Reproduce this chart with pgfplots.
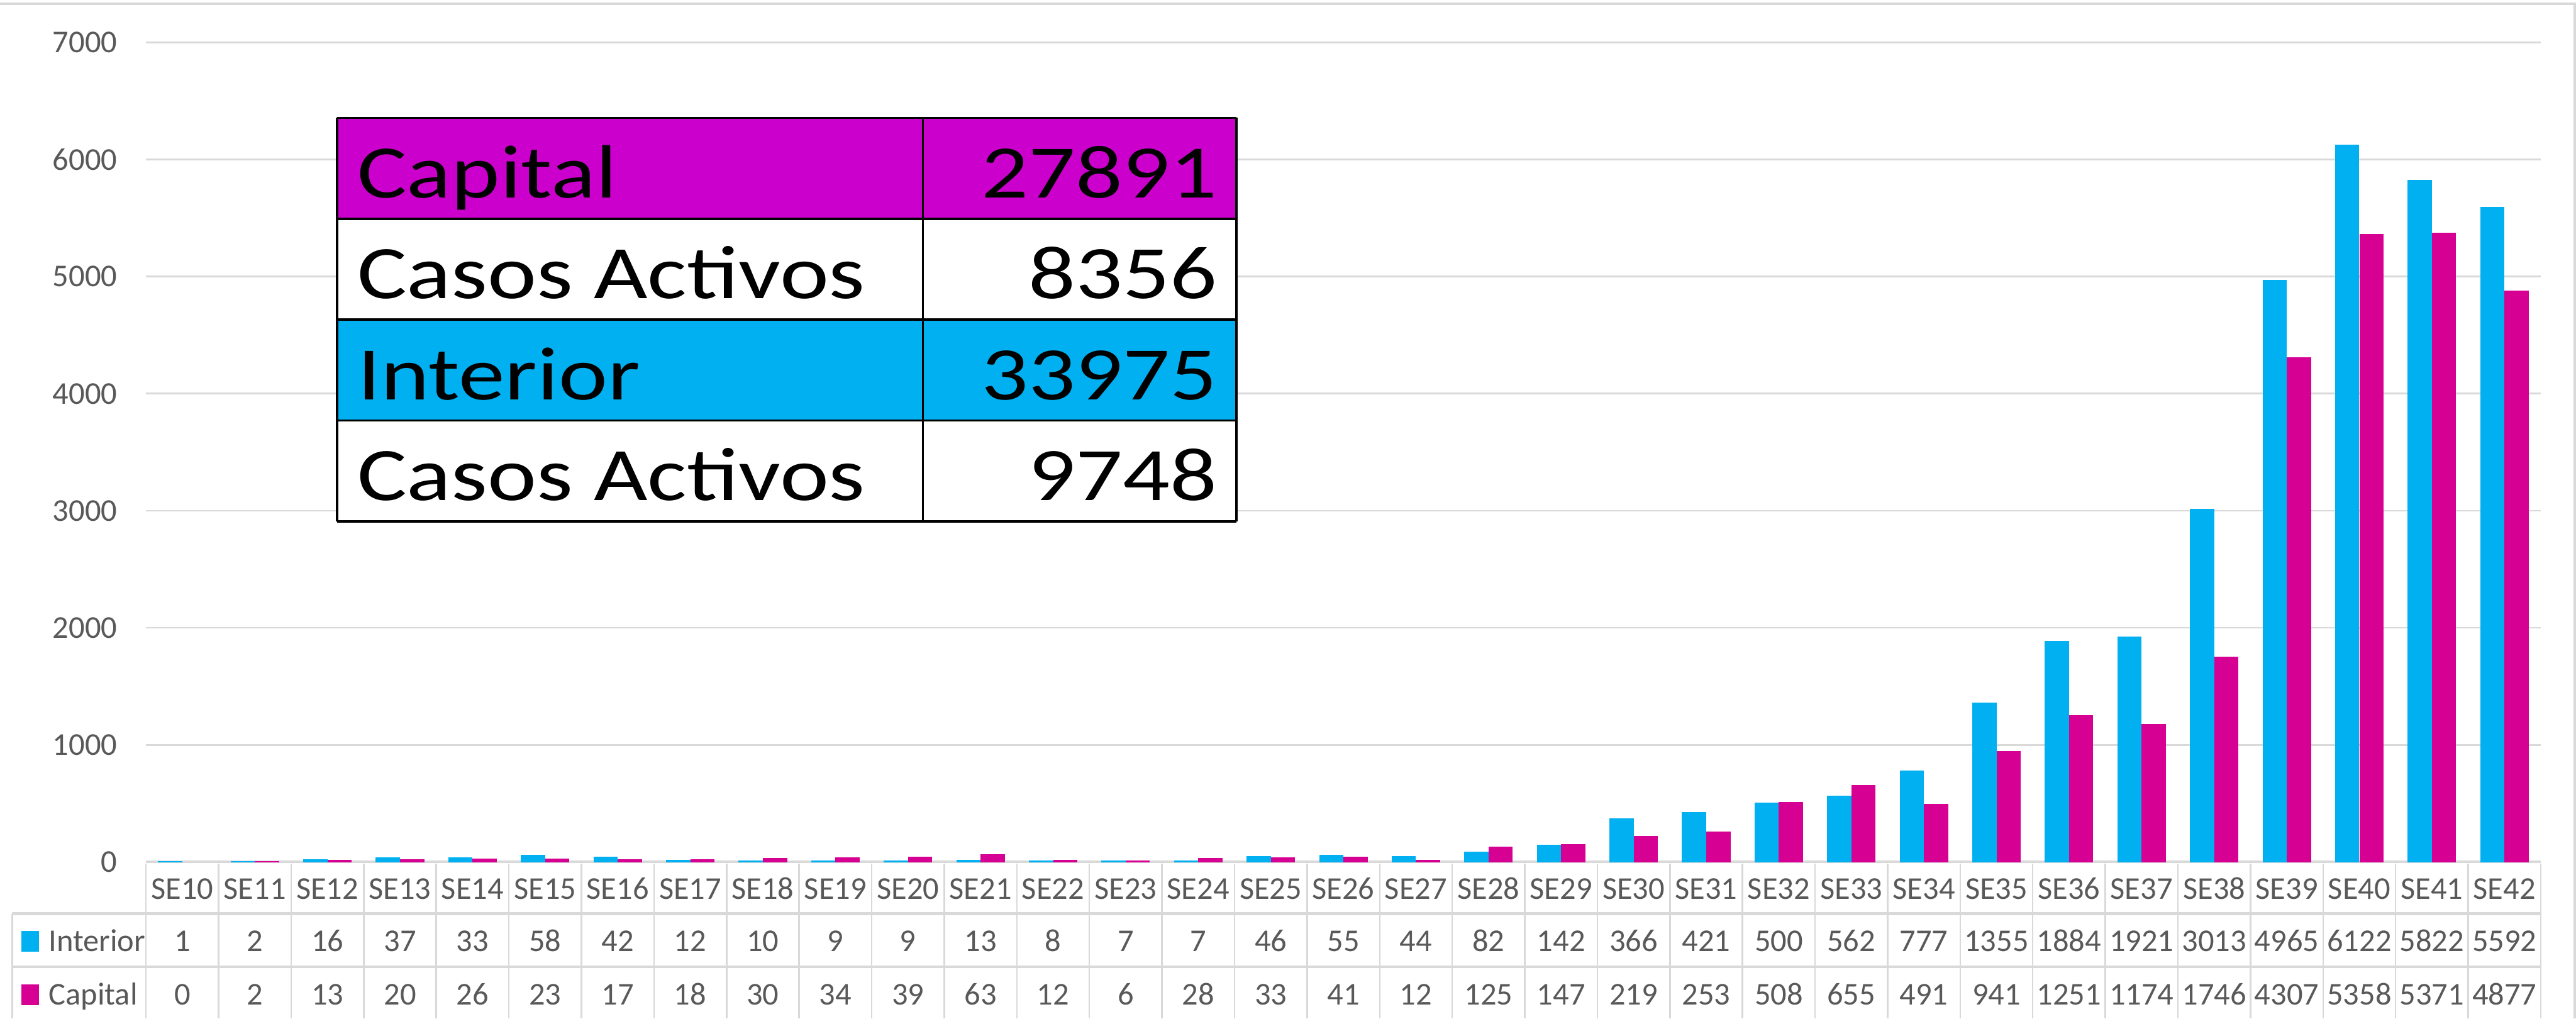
\documentclass[border=0pt]{standalone}
\usepackage{pgfplots}
\pgfplotsset{compat=1.18}
\usepackage{pgfplotstable}
\usepackage{graphicx}
\usepackage{fontspec}
\setmainfont{Carlito}
\definecolor{cyanbar}{RGB}{0,176,240}
\definecolor{magbar}{RGB}{214,0,147}
\definecolor{magcell}{RGB}{204,0,204}
\definecolor{txtgray}{RGB}{89,89,89}
\definecolor{gridgray}{RGB}{217,217,217}

\pgfplotstableread{
x cat interior capital
0 SE10 1 0
1 SE11 2 2
2 SE12 16 13
3 SE13 37 20
4 SE14 33 26
5 SE15 58 23
6 SE16 42 17
7 SE17 12 18
8 SE18 10 30
9 SE19 9 34
10 SE20 9 39
11 SE21 13 63
12 SE22 8 12
13 SE23 7 6
14 SE24 7 28
15 SE25 46 33
16 SE26 55 41
17 SE27 44 12
18 SE28 82 125
19 SE29 142 147
20 SE30 366 219
21 SE31 421 253
22 SE32 500 508
23 SE33 562 655
24 SE34 777 491
25 SE35 1355 941
26 SE36 1884 1251
27 SE37 1921 1174
28 SE38 3013 1746
29 SE39 4965 4307
30 SE40 6122 5358
31 SE41 5822 5371
32 SE42 5592 4877
}\data

\newcommand{\cw}{6.58485mm}
\newcommand{\tabfont}{\fontsize{8.2}{9.8}\selectfont}
\newcommand{\bigfont}{\fontsize{19.5}{23}\selectfont}

\begin{document}
\begin{tikzpicture}
\path[use as bounding box] (-13.25mm,-14.2mm) rectangle (220.5mm,78.2mm);
% chart border (top and right)
\draw[gridgray, line width=0.6pt] (-13.25mm,77.85mm) -- (220.4mm,77.85mm) -- (220.4mm,-14.2mm);
% baseline (drawn below the bars)
\draw[gridgray, line width=0.7pt] (0,0) -- (217.3mm,0);
\begin{axis}[
  at={(0,0)}, anchor=south west,
  scale only axis, width=217.3mm, height=74.35mm,
  xmin=-0.5, xmax=32.5, ymin=0, ymax=7000,
  ybar=0.1mm, bar width=2.1mm,
  axis line style={draw=none},
  xtick=\empty,
  ytick={0,1000,...,7000},
  ymajorgrids, grid style={gridgray, line width=0.45pt},
  major tick length=0pt,
  yticklabel style={font=\tabfont, text=txtgray, inner sep=0pt, xshift=-2.55mm},
  /pgf/number format/assume math mode=true,
  /pgf/number format/set thousands separator={},
  clip=false,
]
\addplot[fill=cyanbar, draw=cyanbar, line width=0.28pt] table[x=x, y=interior]{\data};
\addplot[fill=magbar, draw=magbar, line width=0.28pt, y filter/.expression={y<=0 ? nan : y}, unbounded coords=jump] table[x=x, y=capital]{\data};
\end{axis}

% data table lines
\foreach \k in {0,...,33}
  \draw[gridgray, line width=0.4pt] (\k*\cw,-0.15mm) -- (\k*\cw,-14.2mm);
\draw[gridgray, line width=0.7pt] (-12.15mm,-4.7mm) -- (217.3mm,-4.7mm);
\draw[gridgray, line width=0.7pt] (-12.15mm,-9.5mm) -- (217.3mm,-9.5mm);
\draw[gridgray, line width=0.4pt] (-12.15mm,-4.7mm) -- (-12.15mm,-14.2mm);

% data table text
\pgfplotstableforeachcolumnelement{cat}\of\data\as\cell{%
  \node[anchor=base, inner sep=0pt, font=\tabfont, text=txtgray] at ({(\pgfplotstablerow+0.5)*\cw},-3.375mm) {\cell};
}
\pgfplotstableforeachcolumnelement{interior}\of\data\as\cell{%
  \node[anchor=base, inner sep=0pt, font=\tabfont, text=txtgray] at ({(\pgfplotstablerow+0.5)*\cw},-8.125mm) {\cell};
}
\pgfplotstableforeachcolumnelement{capital}\of\data\as\cell{%
  \node[anchor=base, inner sep=0pt, font=\tabfont, text=txtgray] at ({(\pgfplotstablerow+0.5)*\cw},-12.975mm) {\cell};
}
\fill[cyanbar] (-11.3mm,-8.125mm) rectangle (-9.7mm,-6.275mm);
\fill[magbar] (-11.3mm,-12.975mm) rectangle (-9.7mm,-11.125mm);
\node[anchor=base west, inner sep=0pt, font=\tabfont, text=txtgray] at (-8.9mm,-8.125mm) {Interior};
\node[anchor=base west, inner sep=0pt, font=\tabfont, text=txtgray] at (-8.9mm,-12.975mm) {Capital};

% inset summary table
\fill[magcell] (17.35mm,58.35mm) rectangle (98.95mm,67.5mm);
\fill[white] (17.35mm,49.2mm) rectangle (98.95mm,58.35mm);
\fill[cyanbar] (17.35mm,40.05mm) rectangle (98.95mm,49.2mm);
\fill[white] (17.35mm,30.9mm) rectangle (98.95mm,40.05mm);
\foreach \yy in {67.5,58.35,49.2,40.05,30.9}
  \draw[black, line width=0.6pt] (17.35mm,\yy mm) -- (98.95mm,\yy mm);
\foreach \xx in {17.35,70.5,98.95}
  \draw[black, line width=0.6pt] (\xx mm,30.9mm) -- (\xx mm,67.5mm);
\node[anchor=base west, inner sep=0pt, font=\bigfont] at (19.1mm,60.25mm) {\scalebox{1.23}[1]{Capital}};
\node[anchor=base east, inner sep=0pt, font=\bigfont] at (97.25mm,60.25mm) {\scalebox{1.23}[1]{27891}};
\node[anchor=base west, inner sep=0pt, font=\bigfont] at (19.1mm,51.1mm) {\scalebox{1.23}[1]{Casos Activos}};
\node[anchor=base east, inner sep=0pt, font=\bigfont] at (97.25mm,51.1mm) {\scalebox{1.23}[1]{8356}};
\node[anchor=base west, inner sep=0pt, font=\bigfont] at (19.1mm,41.95mm) {\scalebox{1.23}[1]{Interior}};
\node[anchor=base east, inner sep=0pt, font=\bigfont] at (97.25mm,41.95mm) {\scalebox{1.23}[1]{33975}};
\node[anchor=base west, inner sep=0pt, font=\bigfont] at (19.1mm,32.8mm) {\scalebox{1.23}[1]{Casos Activos}};
\node[anchor=base east, inner sep=0pt, font=\bigfont] at (97.25mm,32.8mm) {\scalebox{1.23}[1]{9748}};
\end{tikzpicture}
\end{document}
